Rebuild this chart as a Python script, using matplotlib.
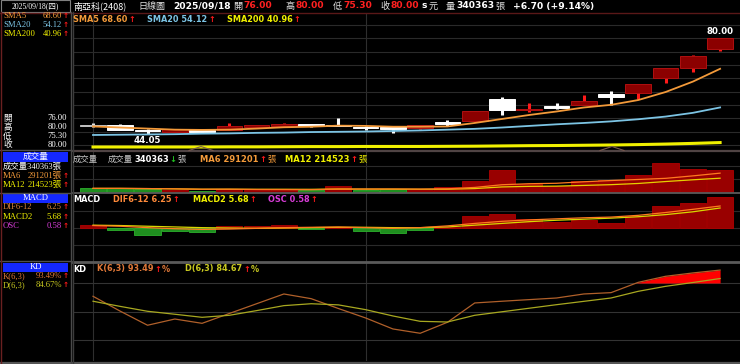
import matplotlib
matplotlib.use("Agg")
import matplotlib.pyplot as plt
import numpy as np
import pandas as pd
from matplotlib.lines import Line2D
from matplotlib.patches import Rectangle

# ---- data (2408 daily, last 24 sessions) ----
opens = [47.3, 47.4, 45.6, 45.0, 45.7, 45.6, 46.8, 47.0, 47.8, 47.5, 46.9, 46.9,
         46.3, 48.6, 48.9, 57.4, 53.1, 54.5, 54.9, 59.1, 59.7, 65.0, 69.0, 76.0]
highs = [48.4, 48.1, 45.9, 46.0, 45.9, 48.2, 47.6, 48.3, 47.9, 50.0, 47.0, 46.9,
         47.6, 49.5, 52.7, 58.0, 55.6, 55.6, 58.7, 60.2, 62.8, 69.0, 73.7, 80.0]
lows = [46.9, 45.5, 44.05, 44.8, 44.7, 45.5, 46.4, 46.8, 46.9, 47.2, 45.8, 44.6,
        46.2, 47.0, 48.6, 51.4, 52.4, 53.4, 54.9, 55.2, 57.1, 63.3, 67.4, 75.3]
closes = [47.3, 45.6, 45.3, 45.9, 45.0, 47.3, 47.4, 47.8, 47.0, 47.3, 46.5, 46.1,
          47.4, 48.0, 52.7, 53.0, 53.6, 53.9, 56.4, 57.9, 62.8, 69.0, 73.3, 80.0]
prev_close = 47.6

sma5 = [47.0, 46.6, 46.2, 45.8, 45.7, 45.8, 46.2, 46.7, 46.9, 47.3, 47.2, 46.9,
        46.9, 47.0, 48.3, 49.8, 51.3, 52.6, 54.1, 55.1, 56.9, 59.9, 63.8, 68.6]
sma20 = [43.8, 43.9, 44.0, 44.1, 44.3, 44.4, 44.6, 44.7, 44.9, 45.0, 45.1, 45.3,
         45.5, 45.8, 46.1, 46.6, 47.2, 47.8, 48.3, 48.9, 49.7, 50.7, 52.1, 54.12]
sma200 = [39.3, 39.3, 39.3, 39.3, 39.3, 39.35, 39.35, 39.4, 39.45, 39.45, 39.5, 39.5,
          39.5, 39.55, 39.6, 39.7, 39.8, 39.85, 39.95, 40.05, 40.2, 40.4, 40.65, 40.96]

volumes = [62000, 62000, 53000, 42000, 26000, 53000, 37000, 53000, 42000, 93000, 37000, 53000,
           31000, 78000, 166000, 336000, 130000, 93000, 166000, 192000, 259000, 440000, 352000, 340363]

macd_bar = [0.77, -0.65, -1.9, -0.94, -1.14, 0.48, 0.48, 0.77, -0.28, 0.37, -0.77, -1.3,
            -0.65, 0.3, 3.3, 4.1, 2.6, 1.7, 2.2, 1.5, 3.3, 6.2, 7.1, 8.8]
dif = [0.7, 0.5, 0.1, -0.2, -0.4, -0.3, -0.1, 0.1, 0.2, 0.3, 0.1, -0.1,
       0.1, 0.6, 1.3, 1.9, 2.3, 2.6, 2.9, 3.1, 3.6, 4.4, 5.3, 6.25]
macd2 = [0.8, 0.7, 0.5, 0.3, 0.1, 0.0, -0.1, 0.0, 0.1, 0.2, 0.2, 0.1,
         0.1, 0.3, 0.8, 1.3, 1.8, 2.2, 2.5, 2.8, 3.2, 3.8, 4.6, 5.68]

kd_k = [66.1, 50.5, 35.8, 42.3, 37.8, 48.1, 58.3, 68.5, 63.6, 53.3, 43.4, 31.9,
        27.4, 38.9, 59.1, 60.9, 62.6, 64.3, 68.5, 69.9, 80.7, 87.0, 90.5, 93.49]
kd_d = [60.9, 55.5, 50.4, 47.3, 44.1, 46.2, 51.1, 56.3, 58.3, 57.1, 52.1, 45.5,
        39.9, 39.2, 46.2, 49.9, 53.6, 57.3, 60.8, 64.3, 71.3, 76.5, 80.5, 84.67]

# ---- colours / fonts ----
RED = "#ff1a1a"
ORANGE = "#f39a3a"
BLUE = "#7cc4e4"
YELLOW = "#f0f000"
MAGENTA = "#d83cd8"
KTXT = "#e07838"
DTXT = "#c8c820"
GRID = "#2a2a2a"
LAT = ["DejaVu Sans"]
CJK = ["Noto Sans CJK TC", "DejaVu Sans"]
SER = ["Liberation Serif", "Noto Sans CJK TC", "DejaVu Sans"]

W, H = 740, 364
fig = plt.figure(figsize=(7.4, 3.64), dpi=100, facecolor="black")
renderer = fig.canvas.get_renderer()

x = np.arange(len(closes))
o, h, l, c = map(np.array, (opens, highs, lows, closes))


def ax_at(x0, y0, x1, y1):
    ax = fig.add_axes([x0 / W, 1 - y1 / H, (x1 - x0) / W, (y1 - y0) / H])
    ax.set_facecolor("black")
    ax.set_xlim(-0.734, 23.73)
    ax.set_xticks([])
    ax.set_yticks([])
    for s in ax.spines.values():
        s.set_visible(False)
    for v in (0, 10):
        ax.axvline(v, color="#2e2e2e", lw=0.8, zorder=0)
    return ax


def put(px, py, s, col, size=5.9, fam=LAT, weight="bold", ha="left"):
    t = fig.text(px / W, 1 - py / H, s, color=col, fontsize=size, family=fam,
                 fontweight=weight, ha=ha, va="center")
    return t.get_window_extent(renderer).x1


def row(px, py, parts, size=5.9):
    for p in parts:
        s, col = p[0], p[1]
        fam = p[2] if len(p) > 2 else LAT
        w = "normal" if fam is not LAT else "bold"
        px = put(px, py, s, col, size=size, fam=fam, weight=w) + 1


def hline(y, x0, x1, col, lw=1.0):
    fig.add_artist(Line2D([x0 / W, x1 / W], [1 - y / H, 1 - y / H], color=col, lw=lw))


def vline(xp, y0, y1, col, lw=1.0):
    fig.add_artist(Line2D([xp / W, xp / W], [1 - y0 / H, 1 - y1 / H], color=col, lw=lw))


def box(x0, y0, w, hgt, face, edge="none"):
    fig.add_artist(Rectangle((x0 / W, 1 - (y0 + hgt) / H), w / W, hgt / H,
                             transform=fig.transFigure, facecolor=face, edgecolor=edge, lw=0.8))


# ---- price panel ----
axp = ax_at(73, 12.5, 740, 151)
axp.set_ylim(37.8, 89.7)
for v in range(40, 90, 5):
    axp.axhline(v, color=GRID, lw=0.8, zorder=0)

up = c > o
doji = np.isclose(c, o)
body_col = np.where(doji, "#c0c0c0", np.where(up, "#8b0000", "#ffffff"))
edge_col = np.where(doji, "#c0c0c0", np.where(up, "#b01010", "#ffffff"))
wick_col = np.where(doji, "#e0e0e0", np.where(up, RED, "#ffffff"))
axp.vlines(x, l, h, colors=wick_col, lw=2.2, zorder=2)
bottom = np.minimum(o, c)
height = np.maximum(np.abs(c - o), 0.12)
axp.bar(x, height, bottom=bottom, width=0.94, color=body_col, edgecolor=edge_col, lw=0.7, zorder=3)

axp.plot(x, sma200, color=YELLOW, lw=2.2, zorder=4)
axp.plot(x, sma20, color=BLUE, lw=1.3, zorder=4)
axp.plot(x, sma5, color=ORANGE, lw=1.3, zorder=4)

ih, il = int(np.argmax(h)), int(np.argmin(l))
axp.annotate(f"{h[ih]:.2f}", (ih, h[ih]), xytext=(0, 1.5), textcoords="offset points",
             ha="center", va="bottom", color="white", fontsize=6.2, fontweight="bold")
axp.annotate(f"{l[il]:.2f}", (il, l[il]), xytext=(0, -1.5), textcoords="offset points",
             ha="center", va="top", color="white", fontsize=6.2, fontweight="bold")

# ---- volume panel ----
axv = ax_at(73, 151, 740, 192.5)
axv.set_ylim(0, 625000)
for v in (200000, 400000):
    axv.axhline(v, color=GRID, lw=0.8, zorder=0)
pc = np.concatenate([[prev_close], c[:-1]])
vup = c >= pc
axv.bar(x, volumes, width=0.96, color=np.where(vup, "#990000", "#1f8f1f"),
        edgecolor=np.where(vup, "#b00000", "#2cb02c"), lw=0.6, zorder=2)
vol = pd.Series(volumes)
axv.plot(x, vol.rolling(12, min_periods=1).mean(), color="#e6d000", lw=0.9, zorder=3)
axv.plot(x, vol.rolling(6, min_periods=1).mean(), color="#ff7a20", lw=0.9, zorder=3)

# ---- MACD panel ----
axm = ax_at(73, 193.5, 740, 262)
axm.set_ylim(-9.66, 9.8)
for v in (-4.7, 0, 4.7):
    axm.axhline(v, color=GRID, lw=0.8, zorder=0)
mb = np.array(macd_bar)
axm.bar(x, mb, width=0.96, color=np.where(mb >= 0, "#990000", "#1f8f1f"),
        edgecolor=np.where(mb >= 0, "#b00000", "#2cb02c"), lw=0.6, zorder=2)
axm.plot(x, macd2, color="#d8d800", lw=0.9, zorder=3)
axm.plot(x, dif, color="#ff7a20", lw=0.9, zorder=3)

# ---- KD panel ----
axk = ax_at(73, 263, 740, 361)
axk.set_ylim(-1.6, 100.9)
for v in (20, 50, 80):
    axk.axhline(v, color="#333333", lw=0.8, zorder=0)
k = np.array(kd_k)
axk.fill_between(x, k, 80, where=k >= 80, interpolate=True, color="#ff0000", lw=0, zorder=2)
axk.plot(x, kd_k, color="#b0602a", lw=0.9, zorder=3)
axk.plot(x, kd_d, color="#a8a820", lw=0.9, zorder=3)

# ---- frame lines ----
hline(12.5, 0, 740, "#5a1818")
hline(151, 73, 740, "#504444", 1.6)
hline(193, 73, 740, "#5a5a5a", 1.3)
hline(262.3, 73, 740, "#5a5a5a", 2.0)
hline(362.5, 0, 740, "#555555", 1.6)
hline(150, 0, 71, "#505050")
hline(192.5, 0, 71, "#505050")
hline(261, 0, 71, "#505050")
vline(0.5, 12, 364, "#6a2020")
vline(70.5, 12, 364, "#4a4a4a")
vline(72.6, 12, 364, "#3c3c3c")
for cx in (201, 612):
    fig.add_artist(Line2D([(cx - 12) / W, cx / W, (cx + 12) / W],
                          [1 - 150.5 / H, 1 - 146.5 / H, 1 - 150.5 / H], color="#7a5a50", lw=0.8))

# ---- header ----
box(1, 0.5, 69, 11, "black", "#808080")
put(35.5, 6, "2025/09/18(四)", "white", 5.5, SER, "normal", "center")
row(73, 6, [("南亞科(2408)", "white", CJK)], 6.5)
row(138, 6, [("日線圖", "#e0e0e0", CJK)], 6.5)
row(173, 6, [("2025/09/18", "white")], 6.6)
for px, lab, val in ((233, "開", "76.00"), (285, "高", "80.00"), (333, "低", "75.30"), (380, "收", "80.00")):
    row(px, 6, [(lab, "#e0e0e0", CJK), (val, "#ff2020")], 6.6)
row(422, 6, [("s", "white"), ("元", "#e0e0e0", CJK)], 6.6)
row(446, 6, [("量", "#e0e0e0", CJK), ("340363", "white"), ("張", "#e0e0e0", CJK)], 6.6)
row(513, 6, [("+6.70 (+9.14%)", "white")], 6.6)

# ---- panel titles ----
row(73, 19, [("SMA5 68.60", ORANGE), ("↑", RED)])
row(147, 19, [("SMA20 54.12", BLUE), ("↑", RED)])
row(227, 19, [("SMA200 40.96", YELLOW), ("↑", RED)])

row(73, 159, [("成交量", "#c8c8c8", CJK)], 6)
row(108, 159, [("成交量", "#c8c8c8", CJK), ("340363", "white"), ("↓", "#20c020"), ("張", "#c8c8c8", CJK)], 6)
row(200, 159, [("MA6 291201", ORANGE), ("↑", RED), ("張", ORANGE, CJK)], 6)
row(285, 159, [("MA12 214523", YELLOW), ("↑", RED), ("張", YELLOW, CJK)], 6)

row(73, 199.5, [("MACD", "white")])
row(113, 199.5, [("DIF6-12 6.25", "#ff8a3a"), ("↑", RED)])
row(193, 199.5, [("MACD2 5.68", YELLOW), ("↑", RED)])
row(268, 199.5, [("OSC 0.58", MAGENTA), ("↑", RED)])

row(73, 269, [("KD", "white")])
row(97, 269, [("K(6,3) 93.49", KTXT), ("↑", RED), ("%", KTXT)])
row(185, 269, [("D(6,3) 84.67", DTXT), ("↑", RED), ("%", DTXT)])


# ---- left info panel ----
def side(py, name, col, val):
    put(3, py, name, col, 6.2, SER, "normal")
    put(62, py, val, col, 6.2, SER, "normal", "right")
    put(63, py, "↑", RED, 5.2, LAT, "bold")


side(16, "SMA5", ORANGE, "68.60")
side(25, "SMA20", BLUE, "54.12")
side(34, "SMA200", YELLOW, "40.96")
for py, lab, val in ((118.5, "開", "76.00"), (127.3, "高", "80.00"), (136.2, "低", "75.30"), (145, "收", "80.00")):
    put(3, py, lab, "white", 6.2, CJK, "normal")
    put(67, py, val, "white", 6.2, SER, "normal", "right")

box(3, 151.5, 65, 10.5, "#1428ff")
put(35.5, 156.8, "成交量", "white", 6.2, CJK, "normal", "center")
put(3, 166.7, "成交量340363張", "white", 6.0, SER, "normal")
side(175.7, "MA6", ORANGE, "291201張")
side(185, "MA12", YELLOW, "214523張")

box(3, 194, 65, 8.5, "#1428ff")
put(35.5, 198.3, "MACD", "white", 6.2, SER, "normal", "center")
side(207.3, "DIF6-12", "#d8843c", "6.25")
side(216.7, "MACD2", YELLOW, "5.68")
side(225.7, "OSC", MAGENTA, "0.58")

box(3, 262.7, 65, 9, "#1428ff")
put(35.5, 267.2, "KD", "white", 6.2, SER, "normal", "center")
side(276, "K(6,3)", KTXT, "93.49%")
side(285, "D(6,3)", DTXT, "84.67%")

fig.savefig("out.png", dpi=100, facecolor="black")
